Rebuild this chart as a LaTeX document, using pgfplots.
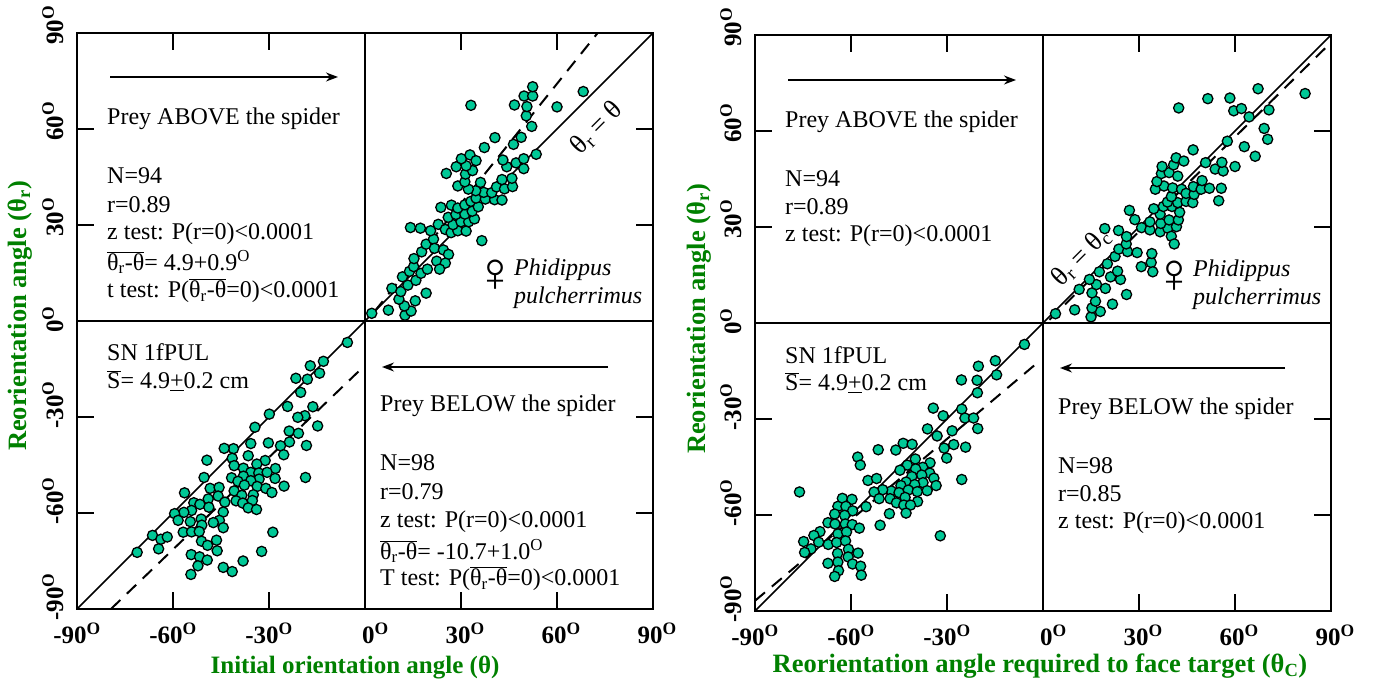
\documentclass[border=0pt]{standalone}
\usepackage{fontspec}
\usepackage{pgfplots}
\usepackage{pgfplotstable}
\usetikzlibrary{arrows.meta}
\pgfplotsset{compat=1.18}
\setmainfont{Liberation Serif}
\definecolor{ptfill}{RGB}{0,200,150}
\definecolor{lblgreen}{RGB}{0,128,0}
\newcommand{\fs}[1]{\fontsize{#1}{#1}\selectfont}
\newcommand{\dg}{\textsuperscript{O}}
\newcommand{\ol}[1]{$\overline{\hbox{#1}}$}
\newcommand{\ul}[1]{$\underline{\hbox{#1}}$}
\newcommand{\thr}{θ\textsubscript{r}}
\tikzset{ar/.style={-{Stealth[length=12pt,width=9pt]}, line width=1.4pt}}
\pgfplotstableread[row sep=\\]{x y\\
2.1 2.4\\ 7.3 3.4\\ 12.5 1.8\\ 14.4 3.1\\ 12.3 4.7\\ 15.7 6.3\\ 10.6 6.8\\ 19.1 8.7\\ 8.4 10.2\\ 11.2 9.2\\
13.4 11.2\\ 15.9 12.7\\ 11.7 13.8\\ 13.9 15.5\\ 15.2 17.0\\ 17.5 14.9\\ 19.5 16.2\\ 15.3 19.5\\ 17.7 21.6\\ 19.1 24.0\\
21.4 25.6\\ 21.7 22.7\\ 24.5 22.2\\ 26.1 20.8\\ 22.4 18.7\\ 25.1 18.1\\ 23.3 16.2\\ 14.2 29.2\\ 17.3 29.0\\ 20.5 28.2\\
22.9 30.2\\ 25.1 28.6\\ 26.9 27.6\\ 29.0 28.2\\ 31.6 28.1\\ 27.5 30.1\\ 30.0 31.0\\ 32.4 31.0\\ 34.2 31.9\\ 26.0 32.4\\
28.4 33.3\\ 31.2 33.4\\ 33.5 34.3\\ 23.7 35.5\\ 27.0 36.2\\ 29.0 35.3\\ 31.2 36.3\\ 33.1 37.4\\ 35.4 35.7\\ 34.7 38.4\\
37.6 38.1\\ 40.5 37.9\\ 42.8 37.8\\ 37.1 40.2\\ 39.6 40.1\\ 34.6 40.7\\ 32.3 41.2\\ 29.0 42.2\\ 31.2 43.5\\ 36.1 43.3\\
31.4 45.9\\ 25.4 46.1\\ 33.6 47.0\\ 31.6 48.5\\ 28.5 48.2\\ 30.1 50.7\\ 32.8 51.9\\ 34.7 50.1\\ 37.3 54.2\\ 40.6 57.3\\
41.1 41.9\\ 43.6 41.3\\ 46.1 42.0\\ 42.8 44.2\\ 45.9 44.6\\ 44.3 48.2\\ 43.1 50.3\\ 47.2 49.4\\ 49.6 50.7\\ 49.6 47.6\\
53.5 52.1\\ 46.4 55.2\\ 48.8 57.4\\ 52.1 60.8\\ 50.4 64.1\\ 50.6 67.0\\ 46.7 67.5\\ 49.7 70.3\\ 52.4 70.3\\ 52.4 73.2\\
33.1 67.4\\ 60.0 66.9\\ 68.2 71.7\\ 36.5 25.1\\
}\dataA
\pgfplotstableread[row sep=\\]{x y\\
-5.5 -6.7\\ -13.0 -12.6\\ -17.1 -14.0\\ -14.2 -16.3\\ -18.0 -18.2\\ -21.6 -17.9\\ -20.1 -22.3\\ -24.2 -26.7\\ -29.9 -29.1\\ -16.3 -26.8\\
-18.8 -29.6\\ -21.0 -30.1\\ -34.4 -33.2\\ -14.8 -32.8\\ -23.7 -34.4\\ -20.8 -35.1\\ -23.6 -37.8\\ -18.3 -38.9\\ -26.4 -39.0\\ -30.2 -38.1\\
-35.7 -38.3\\ -41.1 -39.9\\ -44.0 -39.8\\ -25.4 -41.8\\ -36.5 -42.1\\ -41.5 -42.9\\ -49.4 -43.5\\ -31.2 -43.6\\ -33.8 -44.7\\ -40.9 -45.2\\
-38.0 -46.0\\ -28.0 -46.1\\ -35.7 -47.3\\ -33.2 -47.5\\ -30.6 -47.3\\ -50.3 -48.9\\ -41.7 -49.0\\ -38.0 -48.5\\ -28.1 -49.2\\ -33.1 -49.4\\
-18.6 -48.9\\ -35.7 -49.9\\ -39.7 -50.1\\ -37.7 -51.3\\ -33.7 -51.7\\ -31.0 -52.3\\ -25.3 -51.6\\ -48.4 -52.3\\ -45.6 -52.0\\ -40.9 -53.1\\
-29.1 -53.6\\ -56.4 -53.7\\ -45.9 -54.7\\ -38.5 -54.5\\ -34.9 -54.3\\ -49.0 -55.6\\ -53.5 -56.8\\ -51.6 -57.3\\ -43.8 -56.6\\ -40.3 -56.2\\
-38.2 -56.9\\ -35.2 -56.1\\ -48.8 -58.2\\ -54.2 -59.2\\ -56.6 -59.8\\ -59.5 -60.2\\ -36.5 -58.4\\ -33.9 -58.9\\ -44.3 -59.7\\ -58.4 -62.3\\
-51.2 -61.9\\ -54.6 -62.7\\ -45.5 -62.3\\ -47.4 -63.0\\ -51.0 -63.8\\ -44.3 -64.6\\ -56.8 -66.0\\ -54.2 -65.9\\ -51.8 -65.8\\ -28.8 -66.0\\
-66.4 -67.0\\ -63.8 -68.2\\ -61.8 -67.5\\ -51.1 -68.8\\ -46.4 -68.5\\ -49.2 -70.1\\ -64.5 -71.2\\ -71.2 -72.3\\ -46.2 -71.8\\ -32.3 -72.0\\
-54.3 -73.0\\ -51.7 -73.7\\ -49.3 -74.7\\ -38.1 -75.0\\ -52.2 -76.5\\ -44.3 -77.0\\ -41.5 -78.3\\ -54.4 -79.2\\
}\dataB
\pgfplotstableread[row sep=\\]{x y\\
3.9 2.9\\ 9.9 4.1\\ 15.0 1.9\\ 17.9 3.6\\ 15.3 4.7\\ 21.7 5.9\\ 16.4 6.8\\ 26.1 8.9\\ 11.3 10.5\\ 15.3 9.4\\
19.5 10.8\\ 16.7 12.0\\ 14.5 13.6\\ 17.6 16.0\\ 21.1 14.4\\ 24.2 13.6\\ 23.3 16.2\\ 20.1 18.5\\ 22.5 20.8\\ 23.7 23.1\\
26.4 22.3\\ 29.4 22.0\\ 26.0 24.7\\ 26.1 27.0\\ 30.7 17.6\\ 33.8 18.9\\ 34.3 16.0\\ 34.0 21.7\\ 19.3 29.5\\ 23.6 28.9\\
27.0 35.2\\ 28.7 32.3\\ 30.8 29.8\\ 33.4 29.1\\ 33.4 31.6\\ 36.6 28.5\\ 39.0 29.6\\ 41.7 30.1\\ 36.8 31.1\\ 39.4 32.2\\
42.3 32.2\\ 36.6 34.0\\ 34.6 35.7\\ 37.6 36.4\\ 40.3 36.4\\ 42.7 34.6\\ 38.9 37.8\\ 42.1 37.6\\ 40.1 39.5\\ 44.7 38.0\\
46.8 37.6\\ 40.1 27.1\\ 41.0 24.7\\ 35.1 41.8\\ 37.8 42.8\\ 40.5 42.2\\ 43.3 41.8\\ 44.7 40.5\\ 47.2 40.2\\ 47.0 42.6\\
49.4 41.8\\ 49.7 44.5\\ 52.0 42.1\\ 55.7 42.1\\ 54.9 38.2\\ 35.6 44.2\\ 37.0 46.7\\ 39.4 47.0\\ 42.1 45.9\\ 37.2 48.9\\
40.8 49.4\\ 41.6 51.6\\ 44.0 50.6\\ 46.9 54.1\\ 50.8 50.1\\ 53.8 48.1\\ 56.3 47.5\\ 55.9 50.2\\ 60.0 48.9\\ 57.6 56.8\\
62.9 55.1\\ 66.3 52.1\\ 70.2 57.4\\ 69.1 60.8\\ 64.4 64.4\\ 70.6 66.6\\ 59.6 66.3\\ 62.0 67.0\\ 58.4 70.3\\ 51.5 70.1\\
67.2 73.2\\ 81.9 71.7\\ 42.4 67.2\\
}\dataC
\pgfplotstableread[row sep=\\]{x y\\
-5.8 -6.7\\ -14.9 -11.8\\ -20.2 -13.5\\ -14.5 -16.2\\ -20.6 -17.9\\ -25.5 -17.8\\ -20.5 -21.8\\ -34.3 -26.6\\ -31.2 -29.0\\ -25.4 -26.9\\
-24.4 -29.7\\ -21.7 -29.7\\ -20.4 -33.0\\ -36.1 -33.1\\ -33.1 -35.3\\ -28.4 -33.7\\ -27.9 -38.0\\ -30.9 -39.1\\ -24.2 -38.8\\ -30.1 -42.2\\
-43.7 -37.6\\ -40.9 -37.9\\ -46.0 -39.7\\ -51.5 -39.6\\ -57.9 -41.9\\ -57.1 -44.4\\ -39.9 -42.5\\ -42.4 -44.4\\ -44.7 -46.0\\ -35.3 -43.7\\
-37.6 -45.1\\ -35.4 -46.9\\ -39.8 -45.6\\ -37.9 -47.5\\ -41.0 -48.0\\ -34.1 -48.5\\ -25.4 -48.9\\ -54.7 -49.2\\ -52.0 -48.6\\ -37.5 -49.9\\
-42.8 -49.7\\ -40.1 -50.5\\ -33.4 -50.8\\ -44.4 -50.8\\ -36.2 -52.4\\ -42.1 -52.2\\ -39.3 -52.7\\ -47.4 -52.5\\ -45.0 -53.0\\ -50.1 -52.1\\
-52.8 -52.8\\ -43.1 -54.5\\ -47.8 -54.9\\ -51.2 -54.9\\ -39.2 -55.8\\ -45.8 -56.2\\ -43.5 -56.9\\ -41.4 -56.9\\ -62.7 -54.8\\ -59.7 -55.1\\
-64.1 -57.3\\ -61.6 -57.3\\ -59.5 -58.7\\ -55.3 -57.4\\ -65.1 -59.7\\ -62.0 -60.1\\ -42.8 -59.4\\ -48.0 -59.6\\ -67.2 -62.4\\ -65.0 -62.8\\
-61.8 -62.8\\ -59.6 -63.0\\ -57.4 -64.1\\ -50.9 -63.2\\ -76.1 -52.8\\ -69.7 -65.2\\ -71.6 -66.4\\ -64.1 -65.9\\ -61.4 -65.3\\ -74.8 -68.3\\
-70.1 -68.5\\ -67.1 -69.2\\ -64.5 -68.6\\ -61.7 -68.1\\ -72.5 -70.6\\ -74.5 -71.7\\ -60.8 -70.7\\ -64.2 -72.0\\ -57.8 -71.9\\ -60.9 -73.1\\
-64.1 -74.7\\ -67.2 -75.1\\ -59.5 -75.3\\ -57.0 -76.0\\ -63.9 -77.4\\ -56.8 -78.8\\ -65.1 -79.2\\ -32.1 -66.5\\
}\dataD
\pgfplotsset{
  panel/.style={
    anchor=south west, scale only axis, width=576pt, height=576pt,
    xmin=-90, xmax=90, ymin=-90, ymax=90,
    xtick={-90,-60,-30,0,30,60,90}, ytick={-90,-60,-30,0,30,60,90},
    xticklabels={-90\dg,-60\dg,-30\dg,0\dg,30\dg,60\dg,90\dg},
    yticklabels={-90\dg,-60\dg,-30\dg,0\dg,30\dg,60\dg,90\dg},
    tick align=inside, major tick length=17pt,
    tick style={black, line width=1.5pt},
    axis line style={line width=1.6pt},
    every tick label/.append style={font=\fs{25}\bfseries, black, inner sep=0pt},
    x tick label style={anchor=north east, xshift=24pt, yshift=-14pt},
    y tick label style={rotate=90, anchor=base west, xshift=-12pt, yshift=14pt},
  },
  pts/.style={only marks, mark=*, mark size=5.1pt,
    mark options={fill=ptfill, draw=black, line width=1.3pt}},
  ln/.style={black, line width=1.6pt, no marks},
  dsh/.style={black, line width=2pt, no marks, dash pattern=on 13pt off 9pt},
}
\begin{document}
\begin{tikzpicture}[x=1pt,y=1pt]
\path[use as bounding box] (0,0) rectangle (1373,681);
% Left panel
\begin{axis}[panel, at={(77pt,72pt)}]
\addplot[ln] coordinates {(-90,-90) (90,90)};
\addplot[ln] coordinates {(0,-90) (0,90)};
\addplot[ln] coordinates {(-90,0) (90,0)};
\addplot[dsh] coordinates {(3,3) (72.7,90)};
\addplot[dsh] coordinates {(-79.4,-90) (-0.7,-14.5)};
\addplot[pts] table {\dataA};
\addplot[pts] table {\dataB};
\end{axis}
% Right panel
\begin{axis}[panel, at={(755pt,70pt)}]
\addplot[ln] coordinates {(-90,-90) (90,90)};
\addplot[ln] coordinates {(0,-90) (0,90)};
\addplot[ln] coordinates {(-90,0) (90,0)};
\addplot[dsh] coordinates {(2,1) (88.3,86)};
\addplot[dsh] coordinates {(-90,-86.8) (-2.2,-12.8)};
\addplot[pts] table {\dataC};
\addplot[pts] table {\dataD};
\end{axis}
% axis titles
\begin{scope}[every node/.style={font=\fs{26.5}\bfseries, text=lblgreen, inner sep=0pt}]
\node[rotate=90] at (20,365) {Reorientation angle (\thr)};
\node[rotate=90] at (699,362) {Reorientation angle (\thr)};
\node[font=\fs{25}\bfseries] at (355,13) {Initial orientation angle (θ)};
\node at (1040,15) {Reorientation angle required to face target (θ\textsubscript{C})};
\end{scope}
% panel texts
\begin{scope}[every node/.style={font=\fs{24}, anchor=west, inner sep=0pt, text=black}]
\draw[ar] (110,604) -- (338,604);
\draw[ar] (608,314) -- (382,314);
\node at (107,562) {Prey ABOVE the spider};
\node at (107,505) {N=94};
\node at (107,476) {r=0.89};
\node at (107,447) {z test: P(r=0)<0.0001};
\node at (107,419) {\ol{\thr-θ}= 4.9+0.9\dg};
\node at (107,390) {t test: P(\ol{\thr-θ}=0)<0.0001};
\node at (107,329) {SN 1fPUL};
\node at (107,300) {\ol{S}= 4.9\ul{+}0.2 cm};
\node at (380,275) {Prey BELOW the spider};
\node at (380,218) {N=98};
\node at (380,189) {r=0.79};
\node at (380,159) {z test: P(r=0)<0.0001};
\node at (380,130) {\ol{\thr-θ}= -10.7+1.0\dg};
\node at (380,102) {T test: P(\ol{\thr-θ}=0)<0.0001};
\node at (514,411) {\itshape Phidippus};
\node at (514,383) {\itshape pulcherrimus};
\node[font=\fs{56}, anchor=center] at (495,405) {♀};
\node[font=\fs{27}, anchor=center, rotate=45] at (597,553) {\thr{} = θ};
\draw[ar] (788,601) -- (1016,601);
\draw[ar] (1285,313) -- (1060,313);
\node at (785,559) {Prey ABOVE the spider};
\node at (785,502) {N=94};
\node at (785,474) {r=0.89};
\node at (785,445) {z test: P(r=0)<0.0001};
\node at (785,326) {SN 1fPUL};
\node at (785,298) {\ol{S}= 4.9\ul{+}0.2 cm};
\node at (1058,272) {Prey BELOW the spider};
\node at (1058,215) {N=98};
\node at (1058,187) {r=0.85};
\node at (1058,158) {z test: P(r=0)<0.0001};
\node at (1193,410) {\itshape Phidippus};
\node at (1193,382) {\itshape pulcherrimus};
\node[font=\fs{56}, anchor=center] at (1174,404) {♀};
\node[font=\fs{27}, anchor=center, rotate=45] at (1081,424) {\thr{} = θ\textsubscript{c}};
\end{scope}
\end{tikzpicture}
\end{document}
